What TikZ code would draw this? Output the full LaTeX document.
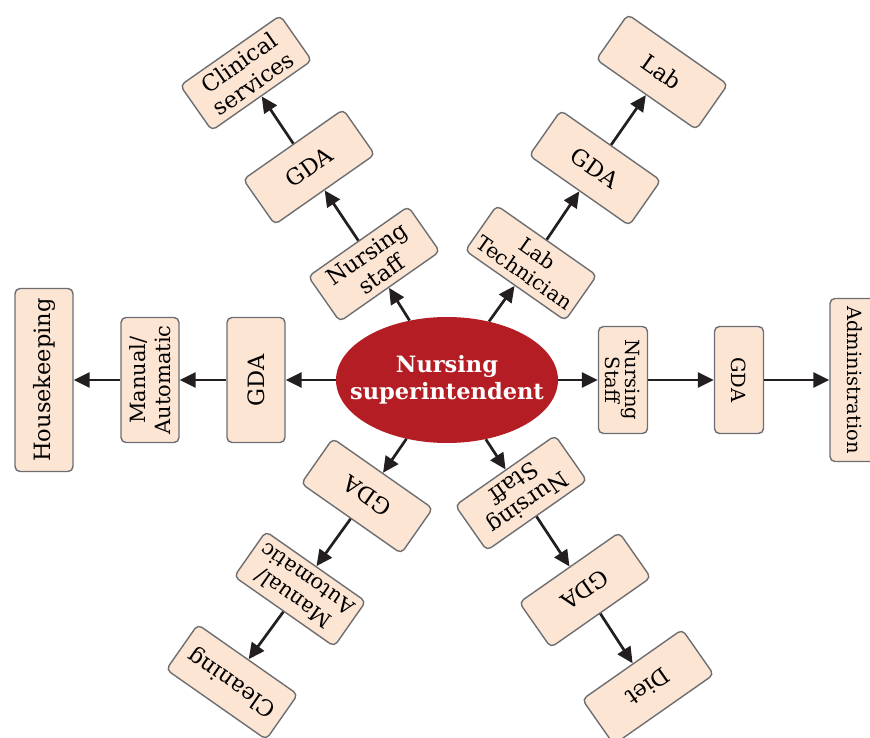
\documentclass[tikz,border=0pt]{standalone}
\usepackage{fontspec}
\setmainfont{DejaVu Serif}
\usetikzlibrary{shapes.geometric,arrows.meta}
\definecolor{boxfill}{HTML}{FDE5D4}
\definecolor{boxline}{HTML}{6D6E71}
\definecolor{ellred}{HTML}{B41D23}
\definecolor{arrowc}{HTML}{231F20}
\begin{document}
\begin{tikzpicture}[x=1pt,y=-1pt,
  box/.style={draw=boxline, fill=boxfill, line width=1.4pt, rounded corners=5pt,
    align=center, inner sep=0pt, minimum width=122pt, minimum height=55pt,
    font=\fontsize{22.5}{25}\selectfont},
  hbox/.style={box, minimum width=125pt, minimum height=58pt},
  rbox/.style={box, minimum width=107pt, minimum height=49pt,
    font=\fontsize{19.5}{20}\selectfont},
  ell/.style={ellipse, fill=ellred, draw=none, text=white, align=center,
    inner xsep=-28pt, inner ysep=0pt, minimum width=222pt, minimum height=126pt,
    font=\bfseries\fontsize{22.5}{27}\selectfont},
  arr/.style={draw=arrowc, line width=2.7pt, -{Triangle[length=16pt,width=15pt]}}
]
\useasboundingbox (0,0) rectangle (870,738);

\node[ell] (ns) at (447,380) {Nursing\\superintendent};

% upper-left arm
\node[box, rotate=35] (ul1) at (374,264) {Nursing\\staff};
\node[box, rotate=35] (ul2) at (309,167) {GDA};
\node[box, rotate=35] (ul3) at (246,73) {Clinical\\services};

% upper-right arm
\node[box, rotate=-35, font=\fontsize{20.5}{23}\selectfont] (ur1) at (531,263) {Lab\\Technician};
\node[box, rotate=-35] (ur2) at (595,168) {GDA};
\node[box, rotate=-35] (ur3) at (662,72) {Lab};

% left arm
\node[hbox, rotate=90] (l1) at (256,380) {GDA};
\node[hbox, rotate=90, font=\fontsize{21}{25}\selectfont] (l2) at (150,380) {Manual/\\Automatic};
\node[hbox, rotate=90, minimum width=183pt] (l3) at (44,380) {Housekeeping};

% right arm
\node[rbox, rotate=-90] (r1) at (623,380) {Nursing\\Staff};
\node[rbox, rotate=-90] (r2) at (739,380) {GDA};
\node[rbox, rotate=-90, minimum width=163pt, minimum height=50pt] (r3) at (855,380) {Administration};

% lower-left arm
\node[box, rotate=145] (ll1) at (367,496) {GDA};
\node[box, rotate=145, font=\fontsize{21}{24}\selectfont] (ll2) at (300,589) {Manual/\\Automatic};
\node[box, rotate=145] (ll3) at (232,682) {Cleaning};

% lower-right arm
\node[box, rotate=-145] (lr1) at (521,493) {Nursing\\Staff};
\node[box, rotate=-145] (lr2) at (585,590) {GDA};
\node[box, rotate=-145] (lr3) at (648,687) {Diet};

% connectors
\draw[arr] (ns) -- (ul1);
\draw[arr] (ul1) -- (ul2);
\draw[arr] (ul2) -- (ul3);
\draw[arr] (ns) -- (ur1);
\draw[arr] (ur1) -- (ur2);
\draw[arr] (ur2) -- (ur3);
\draw[arr] (ns) -- (l1);
\draw[arr] (l1) -- (l2);
\draw[arr] (l2) -- (l3);
\draw[arr] (ns) -- (r1);
\draw[arr] (r1) -- (r2);
\draw[arr] (r2) -- (r3);
\draw[arr] (ns) -- (ll1);
\draw[arr] (ll1) -- (ll2);
\draw[arr] (ll2) -- (ll3);
\draw[arr] (ns) -- (lr1);
\draw[arr] (lr1) -- (lr2);
\draw[arr] (lr2) -- (lr3);
\end{tikzpicture}
\end{document}
